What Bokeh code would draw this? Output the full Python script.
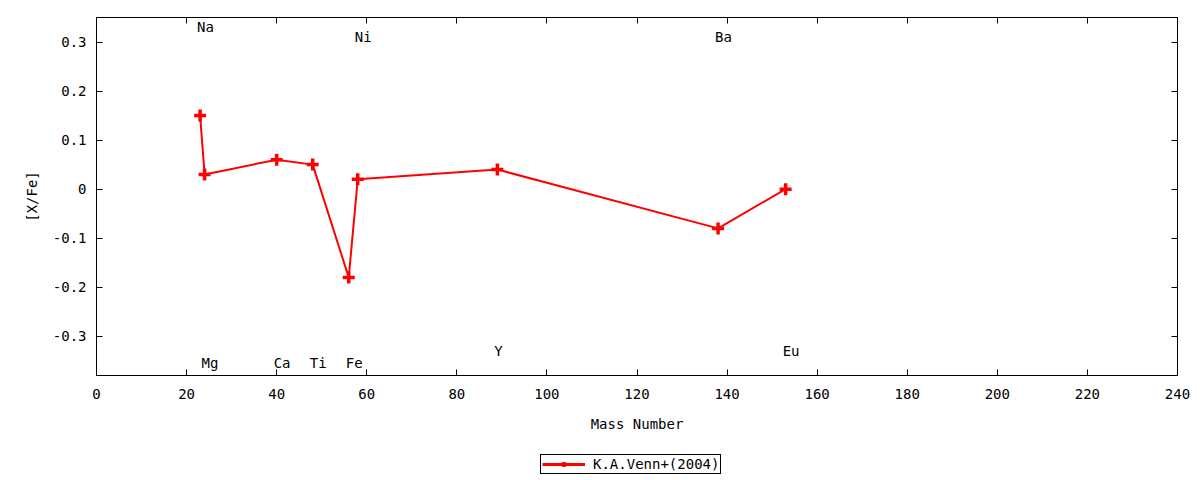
from bokeh.core.properties import value
from bokeh.embed import file_html
from bokeh.layouts import column
from bokeh.models import (ColumnDataSource, FixedTicker, Legend, LegendItem,
                          LinearAxis, Range1d)
from bokeh.plotting import figure
from bokeh.resources import INLINE

# K.A.Venn+(2004) abundances
elements = ['Na', 'Mg', 'Ca', 'Ti', 'Fe', 'Ni', 'Y', 'Ba', 'Eu']
mass_number = [23, 24, 40, 48, 56, 58, 89, 138, 153]
x_fe = [0.15, 0.03, 0.06, 0.05, -0.18, 0.02, 0.04, -0.08, 0.00]

# where the element names are written (data units)
label_y = [0.33, -0.355, -0.355, -0.355, -0.355, 0.31, -0.33, 0.31, -0.33]

x_ticks = list(range(0, 241, 20))
y_ticks = [-0.3, -0.2, -0.1, 0, 0.1, 0.2, 0.3]
y_tick_labels = ['-0.3', '-0.2', '-0.1', '0', '0.1', '0.2', '0.3']

FONT = "DejaVu Sans Mono"
FONT_SIZE = "14px"
RED = "#ff0000"

src = ColumnDataSource(dict(x=mass_number, y=x_fe))
labels = ColumnDataSource(dict(x=mass_number, y=label_y, name=elements))

p = figure(width=1200, height=440, output_backend="svg", toolbar_location=None,
           x_range=Range1d(0, 240), y_range=Range1d(-0.38, 0.35),
           x_axis_label="Mass Number", y_axis_label="[X/Fe]",
           min_border_left=96, min_border_right=23, min_border_top=17,
           min_border_bottom=65)
p.grid.visible = False
p.outline_line_color = "black"
p.outline_line_width = 1

p.line('x', 'y', source=src, line_color=RED, line_width=2)
p.scatter('x', 'y', source=src, marker="cross", size=12,
          line_color=RED, line_width=3.5)

p.text('x', 'y', text='name', source=labels, text_align="left",
       text_baseline="middle", x_offset=-3, text_font=value(FONT),
       text_font_size=FONT_SIZE, text_color="black")

p.xaxis.ticker = FixedTicker(ticks=x_ticks)
p.yaxis.ticker = FixedTicker(ticks=y_ticks)
p.yaxis.major_label_overrides = {t: s for t, s in zip(y_ticks, y_tick_labels)}

for ax in p.axis:
    ax.major_tick_in = 6
    ax.major_tick_out = 0
    ax.minor_tick_in = 0
    ax.minor_tick_out = 0
    ax.axis_line_color = "black"
    ax.major_tick_line_color = "black"
    ax.major_label_text_font = FONT
    ax.major_label_text_font_size = FONT_SIZE
    ax.major_label_text_color = "black"
    ax.axis_label_text_font = FONT
    ax.axis_label_text_font_size = FONT_SIZE
    ax.axis_label_text_font_style = "normal"
    ax.axis_label_text_color = "black"

p.xaxis.major_label_standoff = 13
p.xaxis.axis_label_standoff = 14
p.yaxis.major_label_standoff = 10
p.yaxis.axis_label_standoff = 10

# mirror ticks on top and right, no labels
top = LinearAxis(ticker=FixedTicker(ticks=x_ticks), major_label_text_alpha=0,
                 major_tick_in=6, major_tick_out=0, minor_tick_in=0, minor_tick_out=0,
                 major_label_standoff=0, major_label_text_font_size="1px")
right = LinearAxis(ticker=FixedTicker(ticks=y_ticks), major_label_text_alpha=0,
                   major_tick_in=6, major_tick_out=0, minor_tick_in=0, minor_tick_out=0,
                   major_label_standoff=0, major_label_text_font_size="1px")
p.add_layout(top, "above")
p.add_layout(right, "right")

# key sits below the plot in a strip of its own; its glyphs fall outside
# the strip's ranges so only the legend sample shows
key = figure(width=1200, height=40, output_backend="svg", toolbar_location=None,
             x_axis_type=None, y_axis_type=None, min_border=0,
             x_range=Range1d(0, 1), y_range=Range1d(0, 1))
key.outline_line_color = None
key.grid.visible = False
k_line = key.line('x', 'y', source=src, line_color=RED, line_width=3)
k_pts = key.scatter('x', 'y', source=src, marker="cross", size=12,
                    line_color=RED, line_width=3.5)

legend = Legend(items=[LegendItem(label="K.A.Venn+(2004)", renderers=[k_line, k_pts])],
                location=(444, 6), orientation="horizontal",
                label_text_font=FONT, label_text_font_size=FONT_SIZE,
                label_text_color="black",
                glyph_width=43, glyph_height=12, label_height=12,
                padding=1, margin=0, spacing=0, label_standoff=8,
                border_line_color="black", border_line_width=1, border_line_alpha=1)
key.add_layout(legend)

open("out.html", "w").write(file_html(column(p, key, spacing=0), INLINE))
